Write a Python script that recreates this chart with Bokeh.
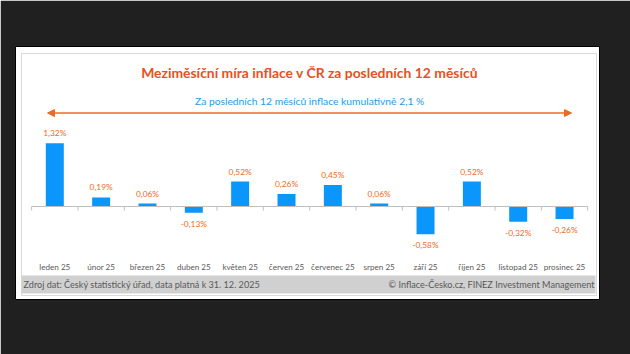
from bokeh.plotting import figure
from bokeh.models import ColumnDataSource, Range1d, Arrow, NormalHead
from bokeh.core.properties import value
from bokeh.embed import file_html
from bokeh.resources import INLINE

# ---- data ----
months = ["leden 25", "únor 25", "březen 25", "duben 25", "květen 25", "červen 25",
          "červenec 25", "srpen 25", "září 25", "říjen 25", "listopad 25", "prosinec 25"]
mom_inflation = [1.32, 0.19, 0.06, -0.13, 0.52, 0.26, 0.45, 0.06, -0.58, 0.52, -0.32, -0.26]
title_text = "Meziměsíční míra inflace v ČR za posledních 12 měsíců"
subtitle_text = "Za posledních 12 měsíců inflace kumulativně 2,1 %"
source_text = "Zdroj dat: Český statistický úřad, data platná k 31. 12. 2025"
credit_text = "© Inflace-Česko.cz, FINEZ Investment Management"

# ---- layout helpers (pixel -> data coordinates) ----
X0, DX = 54.3, 46.34      # px of first category centre, px per category
Y0, DY = 206.0, 48.0      # px of zero line, px per 1 %
def X(px): return (px - X0) / DX
def Y(py): return (Y0 - py) / DY

CARD_L, CARD_R, CARD_T, CARD_B = 15, 599, 46, 299
FONT = value("Lato")
ORANGE = "#EE6A24"
TITLE_RED = "#E8501E"
BLUE_BAR = "#0A96FA"
BLUE_TXT = "#1E9BE6"
GRAY_TXT = "#595959"

p = figure(width=630, height=354, output_backend="svg", toolbar_location=None,
           x_axis_type=None, y_axis_type=None,
           x_range=Range1d(X(CARD_L), X(CARD_R)), y_range=Range1d(Y(CARD_B), Y(CARD_T)),
           min_border_left=CARD_L, min_border_right=630 - CARD_R,
           min_border_top=CARD_T, min_border_bottom=354 - CARD_B)
p.border_fill_color = "#202020"
p.background_fill_color = "white"
p.outline_line_color = "black"
p.outline_line_width = 1
p.grid.visible = False

# inner light border and footer band
p.quad(left=[X(21)], right=[X(596)], top=[Y(53)], bottom=[Y(295)],
       fill_color=None, line_color="#D9D9D9", line_width=1)
p.quad(left=[X(21)], right=[X(595)], top=[Y(275)], bottom=[Y(293)],
       fill_color="#D0D0D0", line_color=None)

# title & subtitle
cx = (len(months) - 1) / 2
p.text(x=[cx], y=[Y(72)], text=[title_text], text_font=FONT, text_font_style="bold",
       text_font_size="13.9px", text_color=TITLE_RED, text_align="center", text_baseline="middle")
p.text(x=[cx], y=[Y(100)], text=[subtitle_text], text_font=FONT,
       text_font_size="10.3px", text_color=BLUE_TXT, text_align="center", text_baseline="middle")

# double arrow
p.add_layout(Arrow(x_start=X(47), x_end=X(571), y_start=Y(112.5), y_end=Y(112.5),
                   line_color=ORANGE, line_width=1.6,
                   start=NormalHead(size=7, fill_color=ORANGE, line_color=ORANGE),
                   end=NormalHead(size=7, fill_color=ORANGE, line_color=ORANGE)))

# bars
idx = list(range(len(months)))
labels = [f"{v:.2f}".replace(".", ",") + "%" for v in mom_inflation]
offsets = [-10 if v >= 0 else 11 for v in mom_inflation]
src = ColumnDataSource(dict(x=idx, top=mom_inflation, label=labels, off=offsets, month=months))
p.vbar(x="x", top="top", bottom=0, width=18 / DX, source=src, fill_color=BLUE_BAR, line_color=None)

# zero axis line and ticks
p.segment(x0=[-0.5], x1=[len(months) - 0.5], y0=[0], y1=[0], line_color="#BFBFBF", line_width=1)
ticks = [i - 0.5 for i in range(len(months) + 1)]
p.segment(x0=ticks, x1=ticks, y0=[0] * len(ticks), y1=[-4 / DY] * len(ticks),
          line_color="#BFBFBF", line_width=1)

# value labels
p.text(x="x", y="top", text="label", y_offset="off", source=src, text_font=FONT,
       text_font_size="8.4px", text_color=ORANGE, text_align="center", text_baseline="middle")

# category labels
p.text(x="x", y=Y(266), text="month", source=src, text_font=FONT,
       text_font_size="8.1px", text_color=GRAY_TXT, text_align="center", text_baseline="middle")

# footer
p.text(x=[X(23)], y=[Y(284)], text=[source_text], text_font=FONT, text_font_size="9.1px",
       text_color=GRAY_TXT, text_align="left", text_baseline="middle")
p.text(x=[X(594)], y=[Y(284)], text=[credit_text], text_font=FONT, text_font_size="9.1px",
       text_color=GRAY_TXT, text_align="right", text_baseline="middle")

open("out.html", "w").write(file_html(p, INLINE))
